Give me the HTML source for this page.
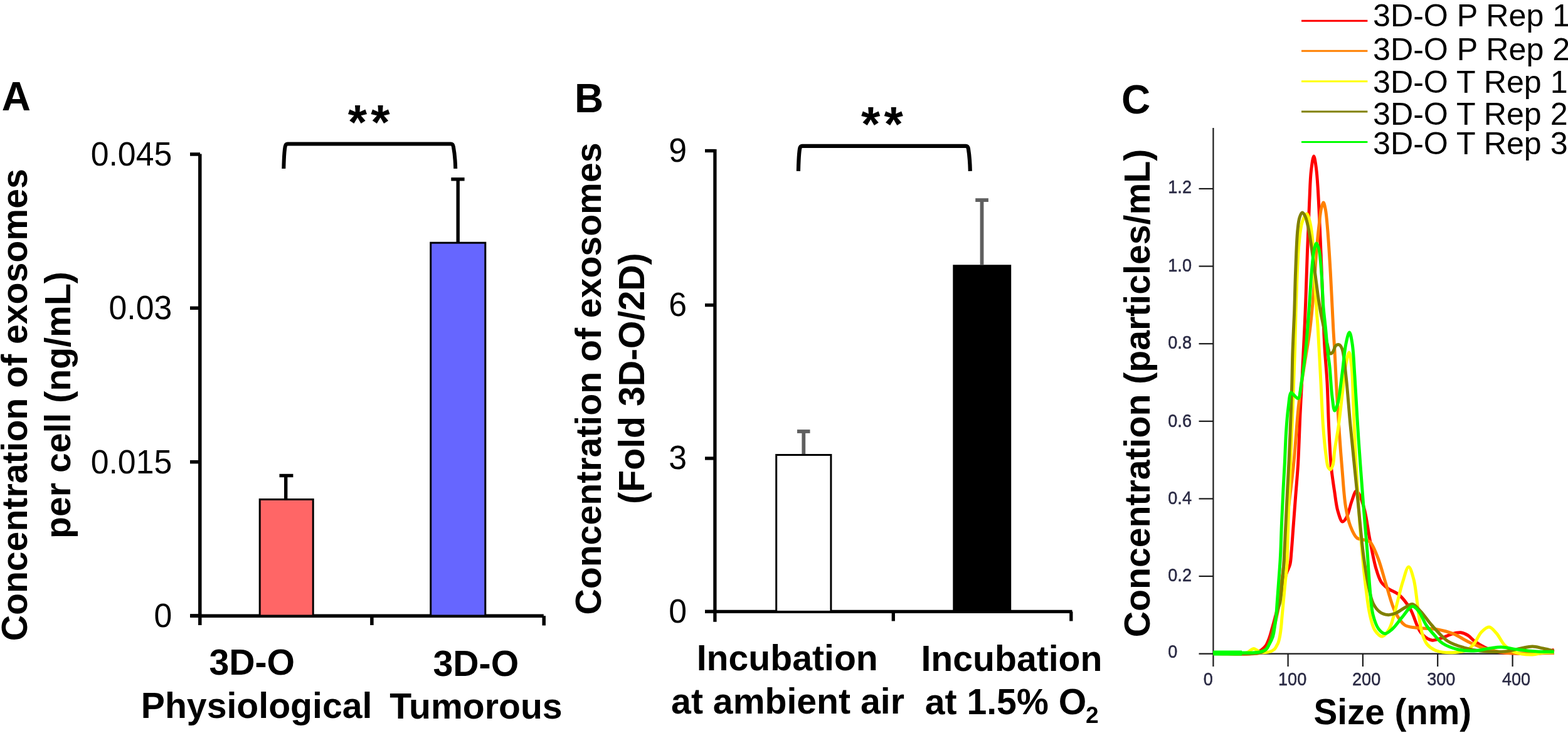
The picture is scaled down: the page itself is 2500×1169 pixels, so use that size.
<!DOCTYPE html><html><head><meta charset="utf-8"><title>Exosome concentration figure</title>
<style>html,body{margin:0;padding:0;background:#fff;}body{width:2500px;height:1169px;overflow:hidden;}svg{display:block;}text{font-family:"Liberation Sans",Arial,Helvetica,sans-serif;}.b{font-weight:bold;}</style></head><body>
<svg width="2500" height="1169" viewBox="0 0 2500 1169">
<rect x="0" y="0" width="2500" height="1169" fill="#fff"/>
<g id="panelA">
<text class="b" x="2.7" y="175.6" font-size="64">A</text>
<text class="b" font-size="57.2" text-anchor="middle" transform="translate(43.3,645.8) rotate(-90)">Concentration of exosomes</text>
<text class="b" font-size="57.2" text-anchor="middle" transform="translate(112.3,646) rotate(-90)">per cell (ng/mL)</text>
<text transform="translate(274.2,263.8) scale(0.955,1)" font-size="54.2" text-anchor="end">0.045</text>
<text transform="translate(274.2,509.1) scale(0.955,1)" font-size="54.2" text-anchor="end">0.03</text>
<text transform="translate(274.2,754.5) scale(0.955,1)" font-size="54.2" text-anchor="end">0.015</text>
<text transform="translate(274.2,999.8) scale(0.955,1)" font-size="54.2" text-anchor="end">0</text>
<g stroke="#000" stroke-width="5.5" fill="none" stroke-linecap="butt">
<line x1="318.8" y1="245.5" x2="318.8" y2="997"/>
<line x1="303" y1="246" x2="319" y2="246"/>
<line x1="303" y1="491.3" x2="319" y2="491.3"/>
<line x1="303" y1="736.7" x2="319" y2="736.7"/>
<line x1="303" y1="982" x2="319" y2="982"/>
<line x1="303.5" y1="982.2" x2="866.8" y2="982.2"/>
<line x1="592.9" y1="982" x2="592.9" y2="997"/>
<line x1="867.2" y1="982.2" x2="867.2" y2="997.5"/>
</g>
<rect x="414.2" y="796.5" width="85" height="185.5" fill="#ff6666" stroke="#000" stroke-width="3"/>
<rect x="686.7" y="387.2" width="87.1" height="594.8" fill="#6666ff" stroke="#000" stroke-width="3"/>
<g stroke="#000" stroke-width="5.4">
<line x1="455.7" y1="758.5" x2="455.7" y2="795"/><line x1="445.5" y1="758.5" x2="467.4" y2="758.5"/>
<line x1="730.2" y1="286" x2="730.2" y2="386"/><line x1="719.3" y1="285.8" x2="740.6" y2="285.8"/>
</g>
<path d="M452.3,269 C452.6,255 453.5,240 454.6,234 Q455.4,229.5 458.5,229.5 L719,229.5 Q722.1,229.5 722.9,234 C724,240 725.9,255 726.2,269" fill="none" stroke="#000" stroke-width="6"/>
<text class="b" x="554.8" y="221.9" font-size="78">*</text><text class="b" x="591.3" y="221.9" font-size="78">*</text>
<text class="b" x="333.4" y="1076" font-size="57.2">3D-O</text>
<text class="b" x="224.8" y="1145" font-size="57.2">Physiological</text>
<text class="b" x="690.5" y="1077.5" font-size="57.2">3D-O</text>
<text class="b" x="621.3" y="1146" font-size="57.2">Tumorous</text>
</g>
<g id="panelB">
<text class="b" x="916" y="179" font-size="64">B</text>
<text class="b" font-size="57.2" text-anchor="middle" transform="translate(958.2,604) rotate(-90)">Concentration of exosomes</text>
<text class="b" font-size="57.2" text-anchor="middle" transform="translate(1027.2,603.6) rotate(-90)">(Fold 3D-O/2D)</text>
<text transform="translate(1095.1,257.8) scale(0.955,1)" font-size="54.2" text-anchor="end">9</text>
<text transform="translate(1095.1,503.9) scale(0.955,1)" font-size="54.2" text-anchor="end">6</text>
<text transform="translate(1095.1,748.3) scale(0.955,1)" font-size="54.2" text-anchor="end">3</text>
<text transform="translate(1095.1,992.7) scale(0.955,1)" font-size="54.2" text-anchor="end">0</text>
<g stroke="#000" stroke-width="5.3" fill="none">
<line x1="1139.9" y1="238" x2="1139.9" y2="991.7"/>
<line x1="1124" y1="240.5" x2="1140" y2="240.5"/>
<line x1="1124" y1="486.6" x2="1140" y2="486.6"/>
<line x1="1124" y1="731" x2="1140" y2="731"/>
<line x1="1124" y1="975.4" x2="1140" y2="975.4"/>
<line x1="1124" y1="975.4" x2="1709.5" y2="975.4"/>
<line x1="1424.3" y1="975.4" x2="1424.3" y2="990.5"/>
<line x1="1707.8" y1="975.4" x2="1707.8" y2="990.5"/>
</g>
<rect x="1237.7" y="725.5" width="87.2" height="249.9" fill="#fff" stroke="#000" stroke-width="3"/>
<rect x="1519.3" y="422.3" width="92.9" height="553.1" fill="#000"/>
<g stroke="#5f5f5f" stroke-width="5.8">
<line x1="1281.3" y1="688" x2="1281.3" y2="724"/><line x1="1271" y1="688" x2="1291.5" y2="688"/>
<line x1="1565.5" y1="319" x2="1565.5" y2="422"/><line x1="1555.2" y1="319.1" x2="1575.9" y2="319.1"/>
</g>
<path d="M1272.9,272.9 C1273.2,259 1274,244 1275.1,237.3 Q1275.9,232.8 1279,232.8 L1540,232.8 Q1543.1,232.8 1543.9,237.3 C1545,244 1546.5,259 1546.8,272.9" fill="none" stroke="#000" stroke-width="6.2"/>
<text class="b" x="1373.1" y="224.9" font-size="78">*</text><text class="b" x="1409.6" y="224.9" font-size="78">*</text>
<text class="b" x="1110.7" y="1068.5" font-size="57.2">Incubation</text>
<text class="b" x="1070.1" y="1137.6" font-size="57.2">at ambient air</text>
<text class="b" x="1468.4" y="1070" font-size="57.2">Incubation</text>
<text class="b" x="1474.7" y="1138.5" font-size="57.2">at 1.5% O<tspan x="1731" y="1152.5" font-size="37">2</tspan></text>
</g>
<g id="panelC">
<text class="b" x="1788" y="181.4" font-size="64">C</text>
<text class="b" font-size="57.2" text-anchor="middle" transform="translate(1832.5,627) rotate(-90)">Concentration (particles/mL)</text>
<line x1="2075" y1="33.2" x2="2180.4" y2="33.2" stroke="#ff0000" stroke-width="3"/>
<text x="2189" y="41.8" font-size="50.2">3D-O P Rep 1</text>
<line x1="2075" y1="81.3" x2="2180.4" y2="81.3" stroke="#ff8000" stroke-width="3"/>
<text x="2189" y="95.7" font-size="50.2">3D-O P Rep 2</text>
<line x1="2075" y1="129.7" x2="2180.4" y2="129.7" stroke="#ffff00" stroke-width="3"/>
<text x="2189" y="147.8" font-size="50.2">3D-O T Rep 1</text>
<line x1="2075" y1="178" x2="2180.4" y2="178" stroke="#808000" stroke-width="3"/>
<text x="2189" y="198.5" font-size="50.2">3D-O T Rep 2</text>
<line x1="2075" y1="226.6" x2="2180.4" y2="226.6" stroke="#00ff00" stroke-width="3"/>
<text x="2189" y="246.4" font-size="50.2">3D-O T Rep 3</text>
<g stroke="#1a1a1a" stroke-width="2.2" fill="none">
<line x1="1934.4" y1="204" x2="1934.4" y2="1063"/>
<line x1="1911.5" y1="919.0" x2="1934.4" y2="919.0"/>
<line x1="1911.5" y1="795.4" x2="1934.4" y2="795.4"/>
<line x1="1911.5" y1="671.8" x2="1934.4" y2="671.8"/>
<line x1="1911.5" y1="548.2" x2="1934.4" y2="548.2"/>
<line x1="1911.5" y1="424.6" x2="1934.4" y2="424.6"/>
<line x1="1911.5" y1="301.0" x2="1934.4" y2="301.0"/>
<line x1="1911.5" y1="1042.6" x2="2478" y2="1042.6"/>
<line x1="2053.6" y1="1042.6" x2="2053.6" y2="1063"/>
<line x1="2172.9" y1="1042.6" x2="2172.9" y2="1063"/>
<line x1="2292.2" y1="1042.6" x2="2292.2" y2="1063"/>
<line x1="2411.6" y1="1042.6" x2="2411.6" y2="1063"/>
</g>
<text transform="translate(1862.3,308.1) scale(0.937,1)" font-size="28.9" fill="#2a2a44" stroke="#2a2a44" stroke-width="0.5">1.2</text>
<text transform="translate(1862.3,433.2) scale(0.937,1)" font-size="28.9" fill="#2a2a44" stroke="#2a2a44" stroke-width="0.5">1.0</text>
<text transform="translate(1862.3,556) scale(0.937,1)" font-size="28.9" fill="#2a2a44" stroke="#2a2a44" stroke-width="0.5">0.8</text>
<text transform="translate(1862.3,680.6) scale(0.937,1)" font-size="28.9" fill="#2a2a44" stroke="#2a2a44" stroke-width="0.5">0.6</text>
<text transform="translate(1862.3,804.2) scale(0.937,1)" font-size="28.9" fill="#2a2a44" stroke="#2a2a44" stroke-width="0.5">0.4</text>
<text transform="translate(1862.3,926.6) scale(0.937,1)" font-size="28.9" fill="#2a2a44" stroke="#2a2a44" stroke-width="0.5">0.2</text>
<text transform="translate(1862.3,1048.8) scale(0.937,1)" font-size="28.9" fill="#2a2a44" stroke="#2a2a44" stroke-width="0.5">0</text>
<text transform="translate(1926.3,1093.3) scale(0.937,1)" text-anchor="middle" font-size="28.9" fill="#2a2a44" stroke="#2a2a44" stroke-width="0.5">0</text>
<text transform="translate(2060.6,1093.3) scale(0.937,1)" text-anchor="middle" font-size="28.9" fill="#2a2a44" stroke="#2a2a44" stroke-width="0.5">100</text>
<text transform="translate(2178.6,1093.3) scale(0.937,1)" text-anchor="middle" font-size="28.9" fill="#2a2a44" stroke="#2a2a44" stroke-width="0.5">200</text>
<text transform="translate(2297.8,1093.3) scale(0.937,1)" text-anchor="middle" font-size="28.9" fill="#2a2a44" stroke="#2a2a44" stroke-width="0.5">300</text>
<text transform="translate(2417.5,1093.3) scale(0.937,1)" text-anchor="middle" font-size="28.9" fill="#2a2a44" stroke="#2a2a44" stroke-width="0.5">400</text>
<text class="b" x="2094.5" y="1155.3" font-size="56.6">Size (nm)</text>
<g fill="none" stroke-width="5" stroke-linejoin="round" stroke-linecap="butt">
<path stroke="#ff0000" d="M1934.0,1042.6 C1954.3,1042.6 1983.3,1043.8 1995.0,1042.6 C1999.8,1042.1 2002.1,1041.7 2005.0,1040.5 C2007.7,1039.4 2009.8,1037.7 2012.0,1036.0 C2014.2,1034.2 2016.2,1032.5 2018.0,1030.0 C2020.2,1026.8 2021.9,1022.3 2023.5,1018.0 C2025.3,1013.3 2026.5,1008.2 2028.0,1003.0 C2029.7,997.3 2031.3,991.4 2033.0,985.0 C2034.9,977.8 2037.0,969.8 2039.0,962.0 C2041.0,954.1 2043.0,945.9 2045.0,938.0 C2047.0,930.2 2048.8,921.8 2051.0,915.0 C2052.8,909.4 2055.5,905.5 2056.8,900.0 C2058.3,893.9 2058.3,887.5 2059.0,880.0 C2059.9,870.4 2060.6,859.5 2061.5,847.0 C2062.7,830.6 2064.4,808.4 2065.8,790.0 C2067.1,772.8 2068.5,758.4 2069.6,740.0 C2070.9,717.3 2071.7,687.9 2072.8,664.0 C2073.8,642.5 2074.8,626.0 2076.0,603.0 C2077.5,573.1 2079.6,534.1 2081.0,500.0 C2082.4,466.4 2083.3,431.5 2084.5,400.0 C2085.6,371.8 2086.7,343.3 2087.8,320.0 C2088.7,302.0 2088.9,285.1 2090.5,272.0 C2091.6,262.9 2093.3,249.0 2094.7,249.0 C2096.0,249.0 2097.5,260.8 2098.5,268.0 C2099.8,277.3 2100.4,287.4 2101.2,300.0 C2102.4,318.2 2103.5,344.2 2104.5,367.0 C2105.6,390.8 2106.4,413.1 2107.5,440.0 C2108.8,473.1 2110.1,519.8 2111.8,551.0 C2113.1,573.8 2114.9,589.5 2116.0,610.0 C2117.2,632.3 2117.5,657.2 2118.6,680.0 C2119.7,701.8 2120.6,725.3 2122.4,744.0 C2123.8,758.6 2125.7,770.7 2127.6,783.0 C2129.3,794.2 2130.4,806.1 2133.0,815.0 C2135.0,821.7 2137.6,831.5 2140.4,832.0 C2142.4,832.4 2145.0,828.4 2147.0,825.0 C2150.3,819.5 2152.2,807.5 2155.0,800.0 C2157.4,793.7 2159.9,783.3 2162.5,783.0 C2164.3,782.8 2166.3,786.7 2168.0,790.0 C2171.0,795.6 2173.6,805.4 2176.0,815.0 C2179.2,827.7 2181.0,844.9 2184.0,860.0 C2187.0,875.5 2190.3,894.6 2194.0,907.0 C2196.5,915.5 2198.5,922.6 2202.0,928.0 C2204.8,932.3 2207.9,934.8 2212.0,938.0 C2217.1,941.9 2225.2,944.0 2231.0,949.0 C2237.5,954.6 2243.1,962.3 2248.4,971.0 C2254.9,981.6 2258.4,1000.4 2265.5,1009.0 C2270.5,1015.1 2276.7,1019.8 2282.7,1021.0 C2288.2,1022.1 2294.5,1018.7 2300.0,1017.0 C2305.2,1015.4 2310.0,1012.4 2315.0,1011.0 C2319.6,1009.7 2324.5,1008.4 2328.8,1008.8 C2332.8,1009.2 2336.5,1010.9 2340.0,1013.0 C2343.9,1015.3 2346.8,1019.4 2351.0,1022.5 C2355.9,1026.1 2362.2,1030.0 2368.0,1032.8 C2373.5,1035.5 2379.2,1037.6 2385.0,1039.0 C2390.7,1040.4 2394.9,1040.9 2402.4,1041.4 C2416.0,1042.3 2448.8,1042.9 2460.0,1041.5 C2464.8,1040.9 2466.9,1040.0 2470.0,1039.0 C2472.8,1038.1 2475.1,1037.0 2477.7,1036.0"/>
<path stroke="#ff8000" d="M1934.0,1042.6 C1956.0,1042.6 1987.7,1043.6 2000.0,1042.6 C2004.8,1042.2 2006.8,1042.3 2010.0,1041.0 C2013.5,1039.6 2017.3,1037.6 2020.0,1034.0 C2023.8,1029.0 2025.7,1019.4 2028.0,1012.0 C2030.3,1004.7 2032.2,997.6 2034.0,990.0 C2035.9,982.0 2037.6,974.1 2039.0,965.0 C2040.7,954.3 2041.6,941.2 2043.0,930.0 C2044.3,919.6 2045.8,911.7 2047.0,900.0 C2048.7,883.5 2048.9,862.5 2051.0,840.0 C2053.7,810.9 2059.3,773.0 2062.6,740.0 C2065.9,707.7 2067.5,672.7 2070.8,644.0 C2073.5,620.5 2077.0,600.0 2080.0,580.0 C2082.7,562.3 2085.8,546.9 2088.0,530.0 C2090.3,512.9 2091.7,497.1 2093.4,478.0 C2095.5,454.6 2097.1,422.3 2099.0,400.0 C2100.4,383.2 2102.0,368.3 2103.4,356.0 C2104.4,347.1 2105.0,339.0 2106.5,333.0 C2107.5,328.9 2109.0,323.0 2110.1,323.0 C2111.3,323.0 2112.5,330.0 2113.5,335.0 C2115.0,343.1 2115.7,354.4 2116.8,367.0 C2118.3,385.1 2119.8,409.7 2121.2,433.5 C2122.8,461.0 2124.4,499.1 2125.7,522.5 C2126.5,537.7 2127.2,546.0 2128.0,560.0 C2129.0,577.7 2129.8,599.2 2131.0,620.0 C2132.3,642.4 2133.8,667.6 2135.4,690.0 C2136.8,710.8 2138.3,730.2 2140.0,750.0 C2141.7,769.5 2142.8,791.8 2145.5,808.0 C2147.5,820.0 2149.5,830.1 2153.0,839.0 C2155.9,846.3 2159.0,854.5 2163.5,858.0 C2166.8,860.6 2171.4,859.9 2175.0,861.0 C2178.2,861.9 2181.2,861.6 2184.0,864.0 C2188.9,868.3 2193.0,880.0 2197.0,890.0 C2202.1,902.8 2206.1,920.4 2210.8,935.0 C2215.3,949.0 2218.8,965.0 2224.5,976.0 C2228.9,984.6 2233.8,993.0 2239.9,997.0 C2244.9,1000.3 2250.3,1000.0 2257.0,1001.0 C2266.4,1002.5 2280.7,1001.9 2291.2,1003.7 C2300.5,1005.3 2308.5,1007.3 2316.9,1010.6 C2325.6,1014.0 2333.8,1020.2 2342.5,1024.2 C2351.0,1028.1 2359.0,1031.8 2368.2,1034.5 C2378.1,1037.5 2387.0,1039.6 2400.0,1041.0 C2420.1,1043.1 2451.8,1041.3 2477.7,1041.5"/>
<path stroke="#ffff00" d="M1934.0,1041.5 C1952.0,1041.3 1979.2,1043.7 1988.0,1041.0 C1991.2,1040.0 1992.1,1038.1 1994.0,1037.0 C1995.7,1036.0 1997.3,1034.5 1999.0,1034.5 C2000.7,1034.5 2002.3,1036.1 2004.0,1037.0 C2005.9,1038.0 2007.8,1039.9 2010.0,1040.5 C2012.4,1041.1 2015.3,1040.7 2018.0,1040.5 C2020.7,1040.3 2023.6,1040.0 2026.0,1039.0 C2028.3,1038.1 2030.6,1036.7 2032.3,1035.0 C2033.9,1033.3 2035.0,1030.8 2036.0,1029.0 C2036.8,1027.6 2037.4,1026.7 2038.0,1025.0 C2038.9,1022.5 2039.8,1018.7 2040.5,1015.0 C2041.4,1010.5 2042.0,1005.0 2042.6,1000.0 C2043.2,995.0 2043.4,990.6 2043.9,985.0 C2044.5,977.7 2045.4,968.7 2046.2,960.0 C2047.1,950.5 2048.0,940.0 2049.0,930.0 C2050.0,920.0 2051.4,909.0 2052.0,900.0 C2052.5,892.7 2052.3,888.9 2052.6,880.0 C2053.1,862.2 2054.1,824.8 2055.0,800.0 C2055.8,778.6 2056.6,760.0 2057.4,740.0 C2058.2,720.0 2059.1,701.4 2060.0,680.0 C2061.0,655.2 2062.2,622.1 2063.0,600.0 C2063.6,584.4 2064.0,575.7 2064.5,560.0 C2065.2,537.5 2065.7,505.9 2066.7,478.0 C2067.8,448.9 2068.8,411.6 2071.0,389.0 C2072.4,375.0 2073.2,363.7 2076.0,355.0 C2077.9,349.1 2081.3,340.9 2083.4,341.0 C2085.2,341.1 2086.7,347.5 2088.0,352.0 C2089.9,358.7 2091.1,367.0 2092.3,378.0 C2094.4,397.0 2095.4,433.7 2096.7,456.0 C2097.7,472.8 2098.6,487.8 2099.5,500.0 C2100.1,508.7 2100.6,512.7 2101.2,522.5 C2102.4,541.1 2104.2,576.5 2105.6,603.0 C2107.0,629.0 2107.9,657.8 2109.6,680.0 C2110.9,697.0 2112.4,713.0 2114.0,725.0 C2115.1,733.0 2115.6,741.0 2117.5,745.0 C2118.5,747.0 2119.9,749.1 2121.0,749.0 C2122.4,748.9 2123.9,745.2 2125.0,742.0 C2126.8,736.5 2126.7,726.9 2128.0,718.0 C2129.6,706.8 2132.1,693.6 2134.0,680.0 C2136.2,664.5 2138.0,646.7 2140.0,630.0 C2142.0,613.3 2143.5,592.4 2146.0,580.0 C2147.5,572.4 2149.6,561.9 2151.0,562.0 C2152.6,562.1 2153.9,575.3 2155.0,585.0 C2156.8,601.1 2157.0,627.9 2158.0,650.0 C2159.0,672.9 2159.8,696.7 2161.0,720.0 C2162.2,743.3 2163.5,766.7 2165.0,790.0 C2166.5,813.3 2167.9,835.9 2170.0,860.0 C2172.2,885.8 2175.2,917.9 2178.0,940.0 C2180.0,955.6 2181.3,968.3 2184.0,980.0 C2186.2,989.4 2187.9,998.9 2192.0,1005.0 C2195.2,1009.7 2200.2,1015.3 2204.0,1015.0 C2207.9,1014.7 2212.0,1008.0 2215.0,1003.0 C2218.6,996.9 2220.0,989.3 2222.8,980.0 C2226.9,966.2 2232.0,941.9 2236.5,928.0 C2239.6,918.4 2242.9,904.0 2245.9,904.0 C2248.7,904.0 2251.7,915.5 2254.0,924.0 C2257.7,937.8 2259.4,964.0 2262.0,980.0 C2264.0,992.2 2265.1,1003.3 2268.0,1012.0 C2270.1,1018.4 2272.0,1023.7 2275.8,1028.0 C2279.6,1032.4 2284.8,1035.8 2291.0,1038.0 C2298.8,1040.7 2311.3,1041.1 2320.0,1040.5 C2327.3,1040.0 2334.7,1038.7 2340.0,1036.0 C2344.3,1033.8 2346.8,1030.8 2350.0,1027.0 C2354.2,1022.1 2357.4,1012.7 2362.0,1008.0 C2365.7,1004.2 2370.3,999.8 2374.2,1000.0 C2378.3,1000.2 2382.2,1005.8 2386.0,1010.0 C2390.6,1015.1 2393.9,1023.9 2399.0,1029.0 C2403.7,1033.7 2408.6,1037.5 2415.0,1040.0 C2422.8,1043.1 2435.3,1044.2 2443.5,1044.0 C2449.8,1043.9 2454.4,1041.7 2460.0,1041.0 C2465.8,1040.3 2471.8,1040.3 2477.7,1040.0"/>
<path stroke="#808000" d="M1934.0,1042.2 C1956.0,1042.2 1986.9,1043.4 2000.0,1042.2 C2005.6,1041.7 2008.6,1041.5 2012.0,1040.0 C2015.1,1038.6 2017.8,1037.0 2020.0,1034.0 C2023.2,1029.7 2024.9,1021.8 2027.0,1015.0 C2029.3,1007.3 2031.1,997.9 2033.0,990.0 C2034.7,983.0 2036.5,975.5 2038.0,970.0 C2039.1,966.1 2040.2,964.3 2041.0,960.0 C2042.4,952.7 2043.0,940.0 2044.0,930.0 C2045.0,920.0 2046.2,909.0 2046.8,900.0 C2047.3,892.7 2047.4,889.1 2047.8,880.0 C2048.8,860.8 2050.9,815.6 2052.2,790.0 C2053.2,770.9 2054.0,756.7 2054.8,740.0 C2055.6,723.3 2056.3,707.9 2057.0,690.0 C2057.8,669.3 2058.8,645.0 2059.5,623.0 C2060.2,601.7 2060.3,580.7 2061.0,560.0 C2061.7,539.8 2062.8,520.5 2063.6,500.0 C2064.4,478.4 2064.7,455.7 2065.6,433.5 C2066.5,411.3 2067.3,382.7 2068.9,367.0 C2069.8,358.4 2070.3,352.1 2072.0,347.0 C2073.1,343.6 2074.7,339.1 2076.3,339.0 C2077.7,338.9 2079.6,342.2 2081.0,345.0 C2083.4,349.9 2084.9,358.4 2086.7,367.0 C2089.2,379.1 2091.1,394.8 2093.4,411.0 C2096.2,431.0 2099.9,461.7 2102.3,478.0 C2103.7,487.3 2104.6,492.4 2106.0,500.0 C2107.5,508.1 2109.5,516.8 2111.2,525.0 C2112.8,532.8 2114.2,541.1 2116.0,548.0 C2117.5,553.9 2118.8,563.2 2121.0,564.0 C2122.2,564.4 2123.8,562.9 2125.0,561.5 C2126.9,559.3 2127.7,552.7 2130.0,551.0 C2131.6,549.8 2134.0,549.3 2135.6,550.0 C2137.5,550.8 2138.7,553.5 2140.0,557.0 C2142.9,565.1 2144.1,583.4 2146.0,600.0 C2148.6,622.5 2150.5,651.7 2153.2,680.0 C2156.3,712.2 2160.1,748.8 2163.5,783.0 C2166.9,817.1 2170.3,857.9 2173.8,885.0 C2176.2,903.1 2178.2,916.3 2181.0,930.0 C2183.4,941.6 2185.2,953.8 2189.2,962.0 C2192.1,968.0 2195.8,972.9 2200.0,976.0 C2203.7,978.7 2208.3,980.3 2212.5,980.6 C2216.6,980.9 2220.8,979.6 2225.0,978.0 C2229.9,976.1 2235.2,971.5 2240.0,969.0 C2244.1,966.8 2248.0,962.9 2251.9,963.5 C2256.4,964.1 2260.5,970.3 2265.0,975.0 C2270.7,981.0 2276.0,989.6 2282.7,997.0 C2290.2,1005.4 2299.1,1016.4 2308.3,1022.5 C2316.4,1027.8 2325.3,1030.2 2334.0,1032.8 C2342.5,1035.3 2350.4,1036.9 2360.0,1038.0 C2371.9,1039.3 2388.3,1040.0 2400.0,1039.0 C2409.4,1038.2 2417.3,1035.4 2425.0,1034.0 C2431.6,1032.8 2437.5,1030.9 2443.5,1031.0 C2449.2,1031.1 2454.4,1032.9 2460.0,1034.0 C2465.8,1035.2 2471.8,1036.7 2477.7,1038.0"/>
<path stroke="#00ff00" d="M1934.0,1040.8 C1956.0,1040.8 1987.7,1041.6 2000.0,1040.8 C2004.8,1040.5 2006.9,1040.4 2010.0,1039.5 C2012.9,1038.7 2015.7,1037.9 2018.0,1036.0 C2020.5,1033.9 2022.2,1030.3 2024.0,1027.0 C2026.0,1023.4 2028.1,1019.3 2029.5,1015.0 C2031.0,1010.4 2031.5,1005.0 2032.3,1000.0 C2033.1,995.0 2033.8,990.6 2034.4,985.0 C2035.2,977.7 2035.6,969.0 2036.3,960.0 C2037.1,949.5 2038.0,936.6 2038.8,926.0 C2039.5,916.8 2040.2,908.1 2040.7,900.0 C2041.2,892.9 2041.4,888.0 2041.8,880.0 C2042.4,867.8 2042.8,849.9 2043.5,834.0 C2044.2,816.7 2045.2,796.7 2046.0,780.0 C2046.7,765.7 2047.5,754.1 2048.2,740.0 C2049.0,724.3 2049.5,705.7 2050.5,690.0 C2051.4,675.9 2052.4,661.6 2054.0,650.0 C2055.2,640.9 2056.0,626.9 2058.5,626.0 C2059.7,625.6 2061.3,628.6 2063.0,630.0 C2065.0,631.7 2067.9,636.1 2069.7,635.5 C2072.8,634.4 2073.3,619.7 2075.0,610.0 C2077.2,597.1 2079.3,580.0 2081.0,565.0 C2082.7,550.0 2083.8,534.6 2085.0,520.0 C2086.1,506.3 2087.0,493.8 2088.0,480.0 C2089.1,465.1 2089.9,447.7 2091.2,433.5 C2092.3,421.4 2093.2,408.3 2095.0,400.0 C2096.1,394.9 2097.6,388.0 2099.0,388.0 C2100.3,388.0 2101.9,393.5 2103.0,398.0 C2105.0,406.1 2105.7,420.3 2106.8,433.5 C2108.2,450.1 2108.7,473.8 2110.0,490.0 C2111.0,502.3 2112.3,511.3 2113.4,522.5 C2114.6,534.5 2115.6,548.8 2116.8,560.0 C2117.8,569.2 2119.0,575.3 2120.0,585.0 C2121.4,598.4 2122.3,620.1 2124.0,633.0 C2125.2,641.8 2126.2,654.8 2128.0,655.0 C2129.4,655.1 2131.5,648.5 2133.0,643.0 C2135.9,632.5 2137.8,610.9 2140.0,595.0 C2142.2,579.3 2143.4,559.9 2146.0,548.0 C2147.6,540.5 2149.8,530.0 2151.5,530.0 C2153.2,530.0 2154.8,540.4 2156.0,548.0 C2158.1,560.8 2158.6,579.9 2160.0,600.0 C2161.9,627.9 2163.7,666.0 2166.0,700.0 C2168.4,735.3 2171.5,775.6 2174.0,808.0 C2176.1,834.4 2178.3,857.4 2180.0,880.0 C2181.5,900.1 2182.4,919.4 2184.0,937.0 C2185.4,952.4 2186.0,968.0 2189.0,980.0 C2191.3,989.0 2194.0,997.8 2198.0,1003.0 C2200.8,1006.7 2204.5,1010.3 2208.0,1010.5 C2211.8,1010.7 2216.0,1006.4 2220.0,1003.0 C2225.1,998.6 2229.8,990.9 2235.0,985.0 C2240.4,978.9 2246.8,967.4 2251.9,967.0 C2255.6,966.7 2258.8,971.3 2262.0,975.0 C2266.4,980.2 2269.6,990.4 2274.0,997.0 C2278.0,1003.0 2282.5,1008.0 2287.0,1013.0 C2291.2,1017.7 2294.5,1022.4 2300.0,1026.0 C2306.7,1030.4 2316.9,1034.0 2325.4,1036.0 C2333.5,1037.9 2341.8,1038.3 2350.0,1038.0 C2358.3,1037.7 2367.2,1035.0 2375.0,1034.0 C2381.7,1033.1 2387.1,1031.8 2393.9,1032.0 C2401.9,1032.2 2411.0,1034.9 2420.0,1036.0 C2429.6,1037.2 2440.2,1038.4 2450.0,1039.0 C2459.4,1039.6 2468.5,1039.4 2477.7,1039.6"/>
<path stroke="#00ff00" stroke-width="8" d="M1934.5,1041.5 L1980,1041.5"/>
</g>
</g>
</svg></body></html>
